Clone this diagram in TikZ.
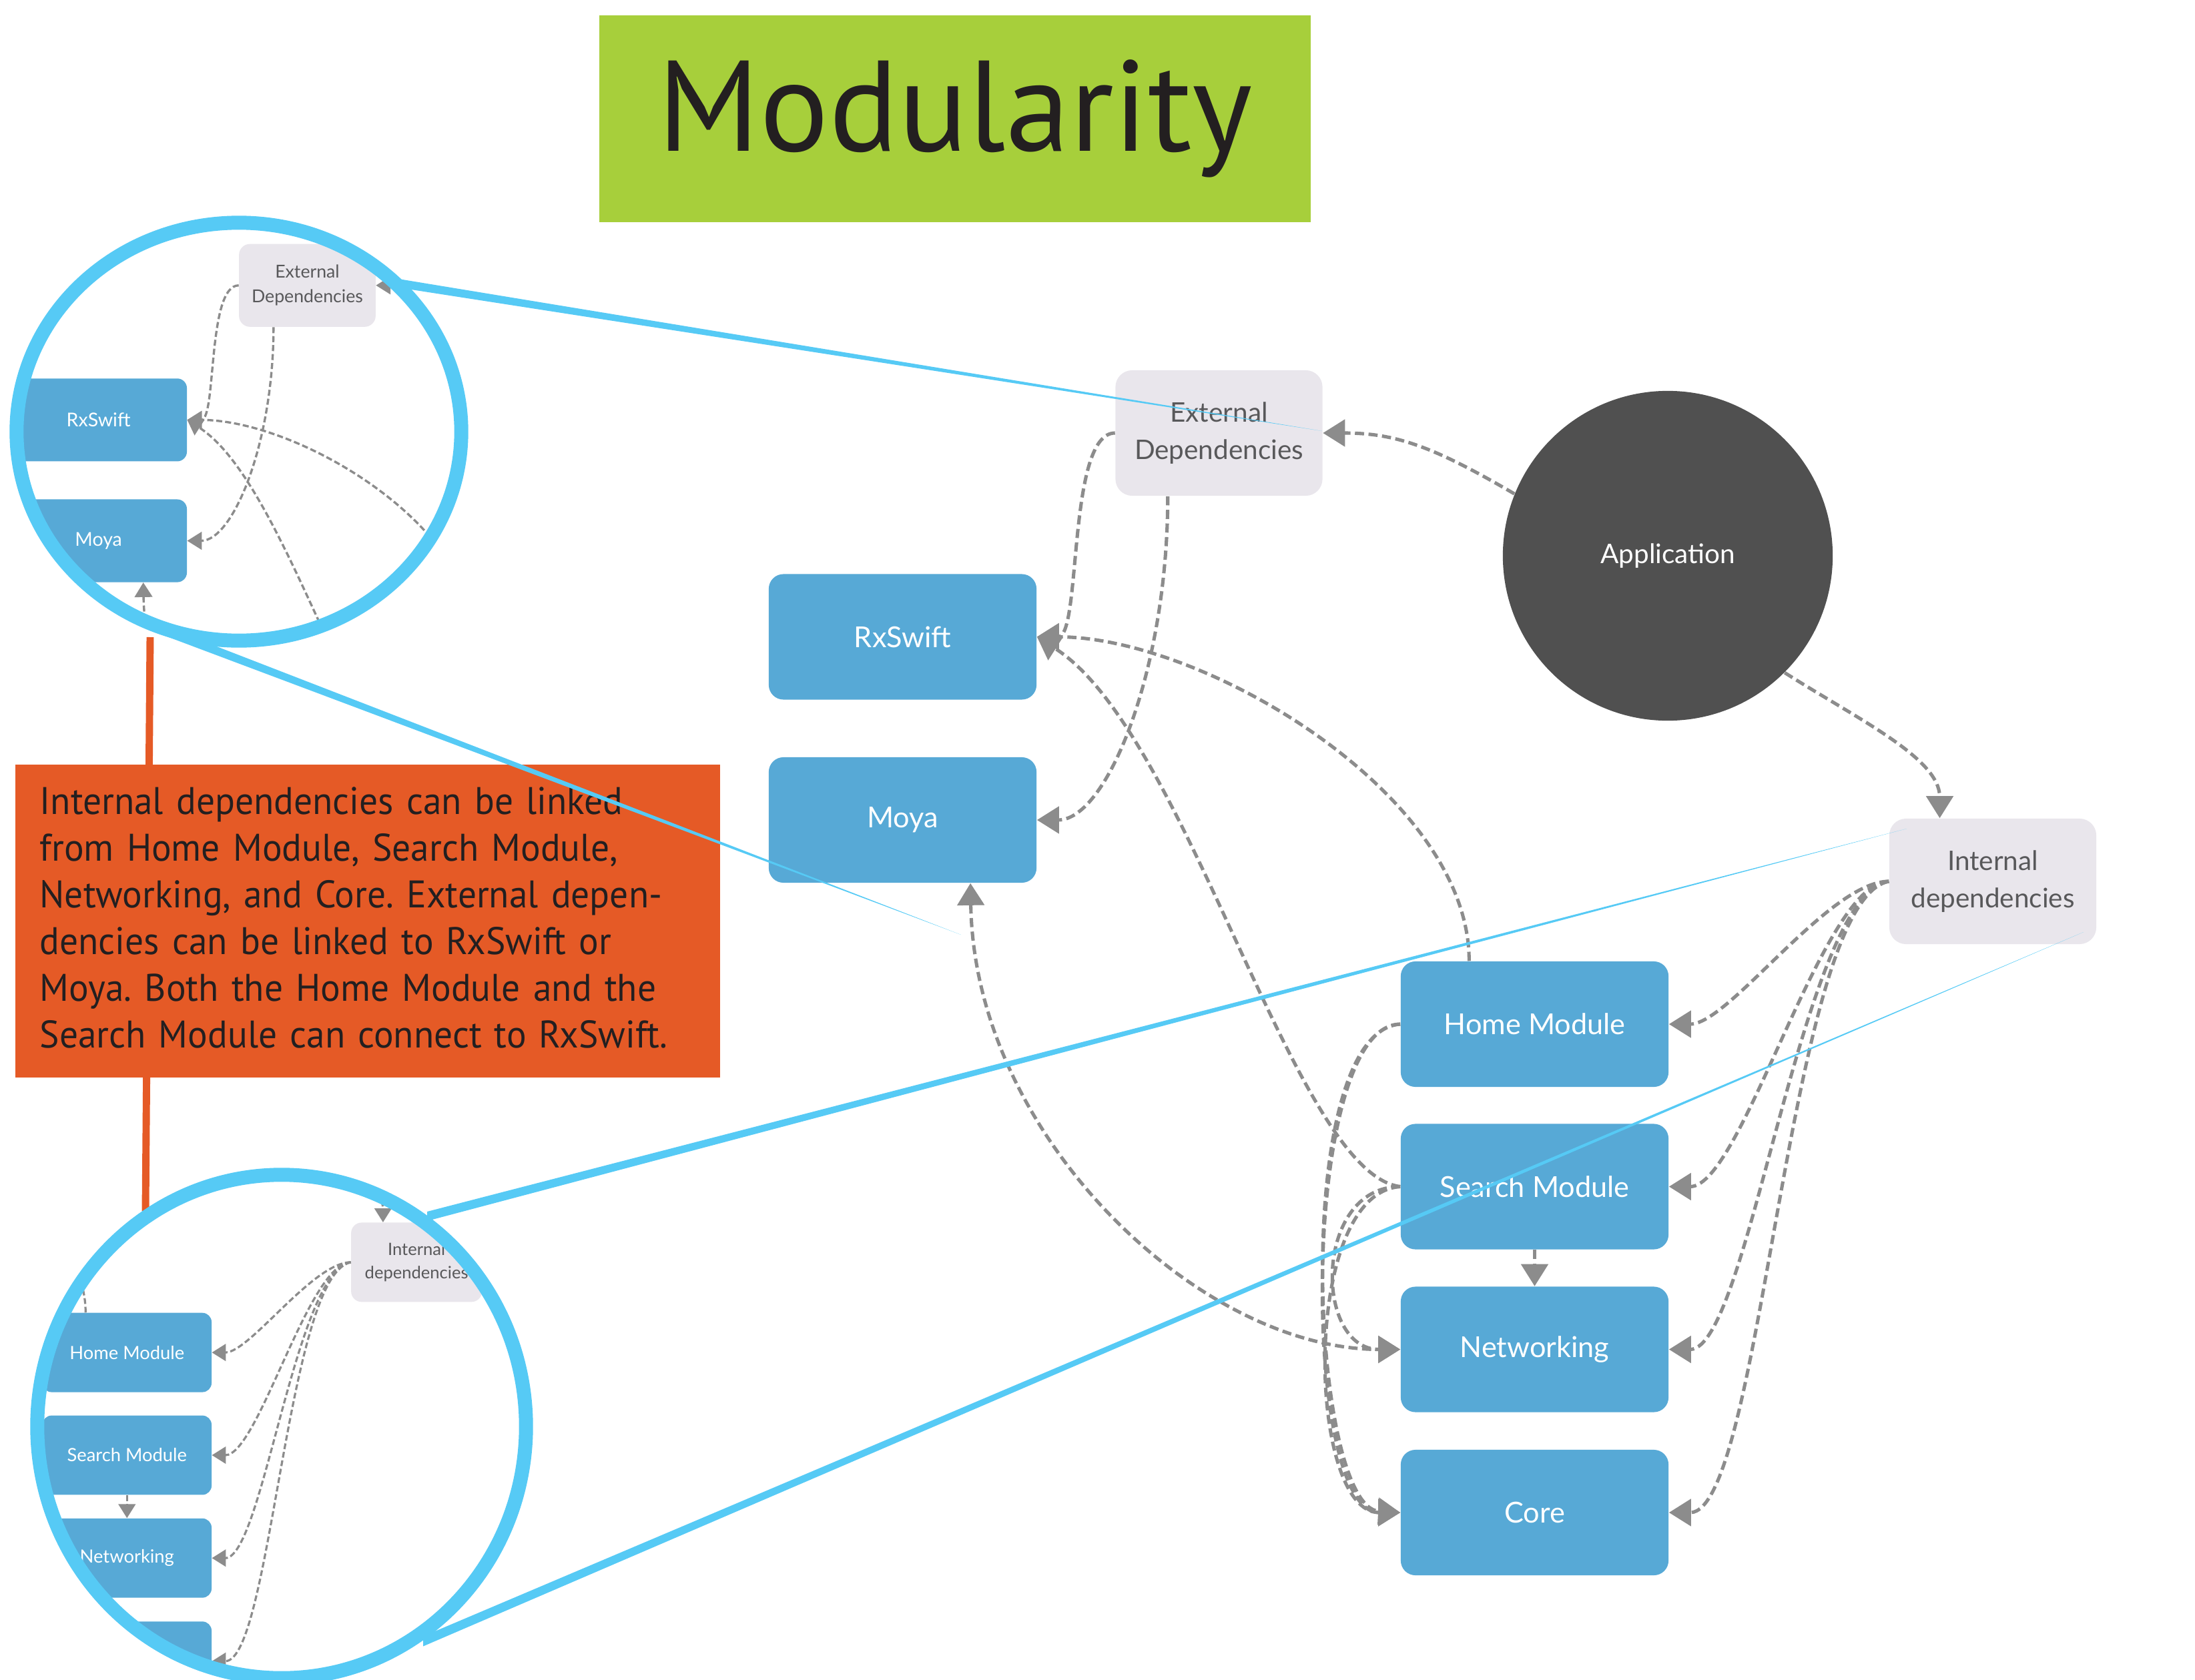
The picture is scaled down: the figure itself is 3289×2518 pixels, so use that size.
\documentclass[tikz,border=0pt]{standalone}
\usepackage{fontspec}
\newfontfamily\latofont{Lato}
\newfontfamily\notefont{PT Sans}
\newfontfamily\narrownotefont[FakeStretch=0.96]{PT Sans}
\usetikzlibrary{arrows.meta,calc}
\definecolor{modblue}{HTML}{57A9D6}
\definecolor{extgray}{HTML}{E9E6EC}
\definecolor{labelgray}{HTML}{58585A}
\definecolor{appgray}{HTML}{505050}
\definecolor{depgray}{HTML}{8C8C8C}
\definecolor{lensblue}{HTML}{56CAF5}
\definecolor{notered}{HTML}{E55A26}
\definecolor{titlegreen}{HTML}{A7CF3B}
\definecolor{inkdark}{HTML}{231F20}

%% the module graph, drawn once for the page and once in each lens
\newcommand{\moduledeps}[1]{%
    %% Drawing the boxes
    \node[extbox] (#1-ext) at (1826.5,649) {External\\Dependencies};
    \node[appnode] (#1-app) at (2499,833) {Application};
    \node[modbox] (#1-rx) at (1352.5,954.5) {RxSwift};
    \node[modbox] (#1-moya) at (1352.5,1229) {Moya};
    \node[extbox] (#1-int) at (2986,1321) {Internal\\dependencies};
    \node[modbox] (#1-home) at (2299.5,1535) {Home Module};
    \node[modbox] (#1-search) at (2299.5,1778.5) {Search Module};
    \node[modbox] (#1-net) at (2299.5,2022.5) {Networking};
    \node[modbox] (#1-core) at (2299.5,2267) {Core};
    %% Drawing the dependencies
    \draw[dep] (#1-app.158) .. controls +(-120,-70) and +(110,0) .. (#1-ext.east);
    \draw[dep] (#1-app.-45) .. controls +(110,70) and +(0,-90) .. (#1-int.130);
    \draw[dep] (#1-ext.west) .. controls +(-72,0) and +(67,0) .. (#1-rx.east);
    \draw[dep] (#1-ext.231) .. controls +(0,260) and +(105,0) .. (#1-moya.east);
    \draw[dep] (#1-home.136) .. controls +(0,-250) and +(250,0) .. (#1-rx.east);
    \draw[dep] (#1-search.west) .. controls +(-160,-20) and +(227,145) .. (#1-rx.east);
    \draw[dep,<->] (#1-moya.-43) .. controls +(6,380) and +(-300,0) .. (#1-net.west);
    \draw[dep] (#1-search.south) -- (#1-net.north);
    \draw[dep] (#1-home.west) .. controls +(-150,0) and +(-150,0) .. (#1-core.west);
    \draw[dep] (#1-home.west) .. controls +(-165,12) and +(-135,-8) .. (#1-core.west);
    \draw[dep] (#1-search.west) .. controls +(-130,0) and +(-130,0) .. (#1-net.west);
    \draw[dep] (#1-search.west) .. controls +(-150,10) and +(-140,0) .. (#1-core.west);
    \draw[dep] (#1-int.west) .. controls +(-90,0) and +(90,0) .. (#1-home.east);
    \draw[dep] (#1-int.west) .. controls +(-100,0) and +(110,0) .. (#1-search.east);
    \draw[dep] (#1-int.west) .. controls +(-131,19) and +(120,0) .. (#1-net.east);
    \draw[dep] (#1-int.west) .. controls +(-151,29) and +(140,0) .. (#1-core.east);
}

\begin{document}
\frenchspacing
\begin{tikzpicture}%
        [x=0.01cm, y=-0.01cm,
        modbox/.style={rectangle,rounded corners=0.22cm,fill=modblue,text=white,
            minimum width=4.01cm,minimum height=1.88cm,
            font=\latofont\fontsize{12.3}{15}\selectfont},
        extbox/.style={rectangle,rounded corners=0.25cm,fill=extgray,text=labelgray,
            minimum width=3.1cm,minimum height=1.88cm,align=center,
            font=\latofont\fontsize{11.5}{16}\selectfont},
        appnode/.style={circle,fill=appgray,text=white,minimum size=4.94cm,inner sep=0pt,
            font=\latofont\fontsize{11.5}{14}\selectfont},
        dep/.style={draw=depgray,line width=1.45pt,dash pattern=on 3.9pt off 1.9pt,
            >={Triangle[length=9.4pt,width=11.4pt]},->},
        lensring/.style={draw=lensblue,line width=5.97pt},
        lens/.style={fill=lensblue},
        titlebox/.style={rectangle,fill=titlegreen,text=inkdark,
            minimum width=10.66cm,minimum height=3.1cm,
            font=\notefont\fontsize{55}{60}\selectfont},
        notebox/.style={rectangle,fill=notered,text=inkdark,align=left,
            text width=9.82cm,inner xsep=0.37cm,minimum height=4.69cm,
            font=\narrownotefont\fontsize{16.4}{19.9}\selectfont}]
    \useasboundingbox (0,0) rectangle (3289,2518);
    %%
    %% Drawing the title
    \node[titlebox] (title) at (1431,178) {Modularity};
    %%
    %% Drawing the pin between the lenses and the note
    \coordinate (pintop) at (225,955);
    \coordinate (pinbot) at (218,1815);
    \draw[notered,line width=3.1pt] (pintop) -- (pinbot);
    \node[notebox] (note) at (551,1380.5) {Internal dependencies can be linked\\
        from Home Module, Search Module,\\
        Networking, and Core. External depen-\\
        dencies can be linked to RxSwift or\\
        Moya. Both the Home Module and the\\
        Search Module can connect to RxSwift.\vspace{0.1cm}};
    %%
    %% Drawing the modules
    \moduledeps{m}
    %%
    %% Drawing the lenses
    \fill[white] (358,647) ellipse [x radius=3.33cm, y radius=3.13cm];
    \begin{scope}
        \clip (358,647) ellipse [x radius=3.33cm, y radius=3.13cm];
        \begin{scope}[transform canvas={shift={(-745,-0.6)},scale=0.66}]
            \moduledeps{t}
        \end{scope}
    \end{scope}
    \draw[lensring] (358,647) ellipse [x radius=3.33cm, y radius=3.13cm];
    \fill[white] (422,2138) ellipse [x radius=3.66cm, y radius=3.77cm];
    \begin{scope}
        \clip (422,2138) ellipse [x radius=3.66cm, y radius=3.77cm];
        \begin{scope}[transform canvas={shift={(-1263,1057)},scale=0.632}]
            \moduledeps{b}
        \end{scope}
    \end{scope}
    \draw[lensring] (422,2138) ellipse [x radius=3.66cm, y radius=3.77cm];
    %%
    %% Drawing the lens rays
    \coordinate (rayA) at (600,425);
    \coordinate (rayB) at (250,947);
    \coordinate (rayC) at (640,1823);
    \coordinate (rayD) at (634,2460);
    \coordinate (rayAend) at (1981,646);
    \coordinate (rayBend) at (1440,1401);
    \coordinate (rayCend) at (2857,1242);
    \coordinate (rayDend) at (3122,1397);
    \fill[lens] ($(rayA)+(0,-6.5)$) -- (rayAend) -- ($(rayA)+(0,6.5)$) -- cycle;
    \fill[lens] ($(rayB)+(0,-7)$) -- (rayBend) -- ($(rayB)+(0,7)$) -- cycle;
    \fill[lens] ($(rayC)+(0,-7)$) -- (rayCend) -- ($(rayC)+(0,7)$) -- cycle;
    \fill[lens] ($(rayD)+(0,-7.5)$) -- (rayDend) -- ($(rayD)+(0,7.5)$) -- cycle;
    %%
\end{tikzpicture}
\end{document}
